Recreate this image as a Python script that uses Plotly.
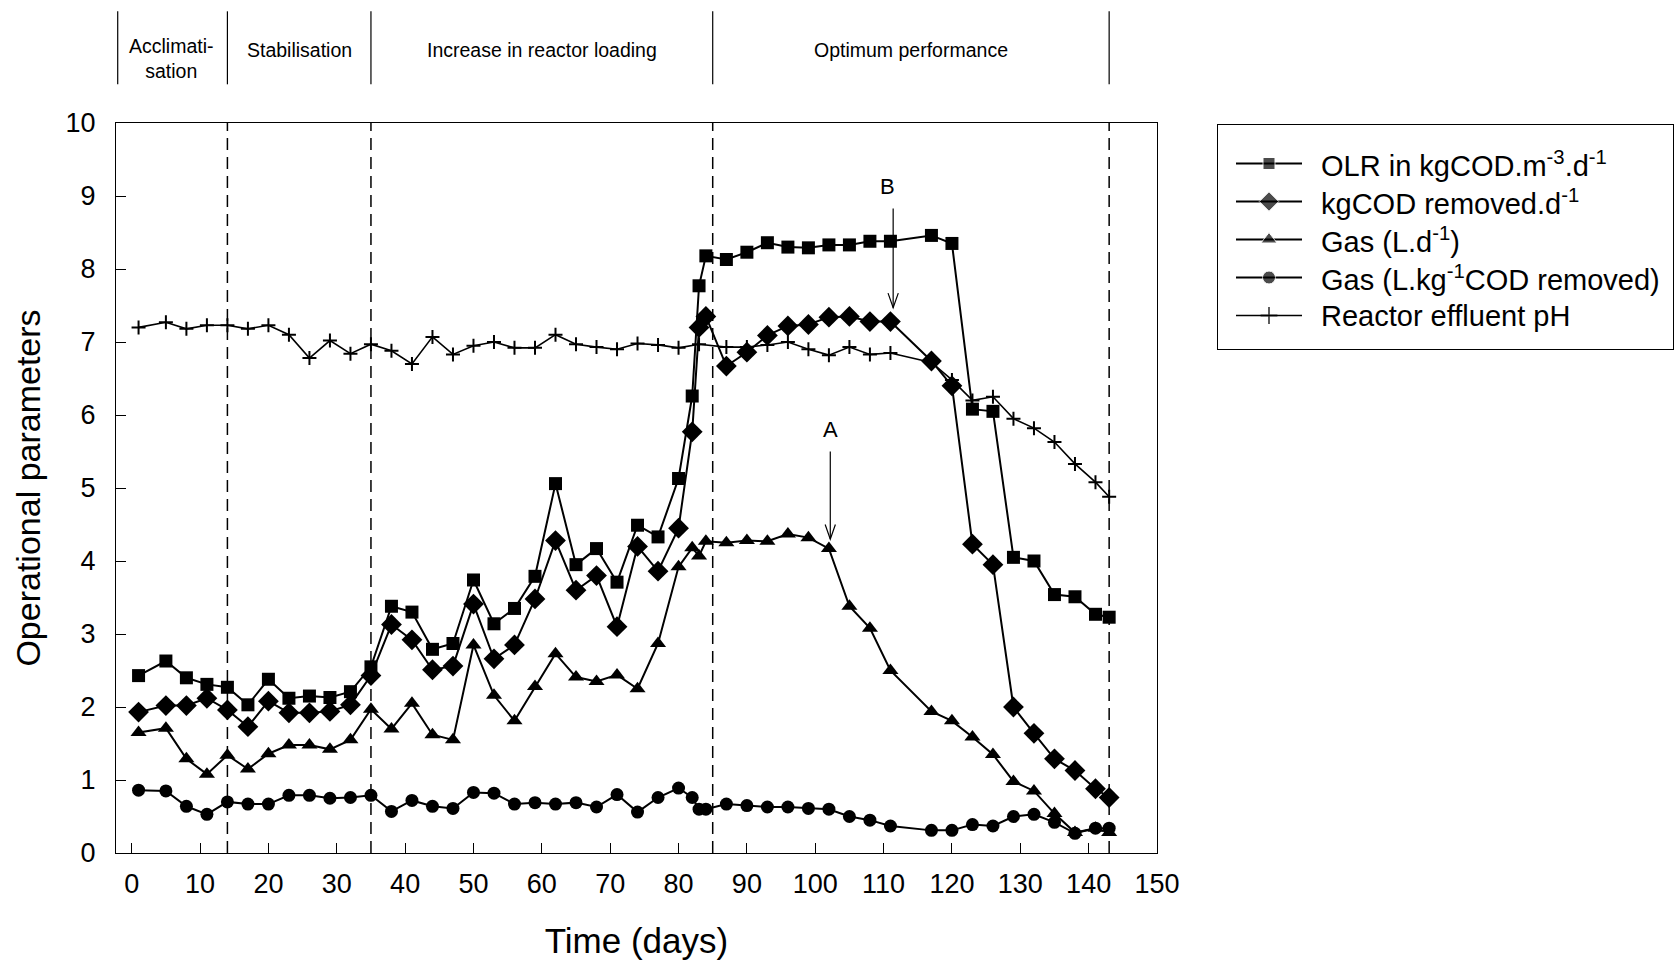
import plotly.graph_objects as go

# ---------------- data ----------------
days = [1, 5, 8, 11, 14, 17, 20, 23, 26, 29, 32, 35, 38, 41, 44, 47, 50, 53, 56, 59,
        62, 65, 68, 71, 74, 77, 80, 82, 83, 84, 87, 90, 93, 96, 99, 102, 105, 108, 111,
        117, 120, 123, 126, 129, 132, 135, 138, 141, 143]

olr = [2.43, 2.63, 2.40, 2.31, 2.27, 2.03, 2.38, 2.12, 2.15, 2.13, 2.21, 2.55, 3.38, 3.30,
       2.79, 2.87, 3.74, 3.14, 3.35, 3.79, 5.06, 3.95, 4.17, 3.71, 4.49, 4.33, 5.13, 6.26,
       7.77, 8.18, 8.13, 8.23, 8.36, 8.30, 8.29, 8.33, 8.33, 8.38, 8.38, 8.46, 8.35, 6.08,
       6.05, 4.05, 4.00, 3.54, 3.51, 3.27, 3.23]

cod_removed = [1.93, 2.02, 2.02, 2.12, 1.96, 1.73, 2.08, 1.92, 1.92, 1.94, 2.03, 2.43, 3.13,
               2.92, 2.51, 2.56, 3.41, 2.66, 2.85, 3.48, 4.28, 3.60, 3.80, 3.10, 4.20, 3.86,
               4.45, 5.77, 7.20, 7.35, 6.67, 6.86, 7.09, 7.22, 7.24, 7.34, 7.35, 7.28, 7.28,
               6.74, 6.40, 4.23, 3.95, 2.00, 1.64, 1.29, 1.13, 0.88, 0.76]

gas_ld = [1.65, 1.71, 1.29, 1.08, 1.34, 1.15, 1.36, 1.48, 1.48, 1.42, 1.55, 1.97, 1.70, 2.05,
          1.62, 1.55, 2.85, 2.16, 1.81, 2.28, 2.73, 2.41, 2.35, 2.44, 2.25, 2.87, 3.92, 4.18,
          4.07, 4.27, 4.25, 4.28, 4.27, 4.37, 4.32, 4.17, 3.38, 3.08, 2.50, 1.94, 1.81, 1.59,
          1.35, 0.98, 0.85, 0.54, 0.28, 0.34, 0.28]

gas_lkg = [0.86, 0.85, 0.64, 0.53, 0.70, 0.67, 0.67, 0.79, 0.79, 0.75, 0.76, 0.79, 0.57, 0.72,
           0.64, 0.61, 0.83, 0.82, 0.67, 0.69, 0.67, 0.69, 0.63, 0.80, 0.56, 0.76, 0.89, 0.76,
           0.60, 0.60, 0.67, 0.65, 0.63, 0.63, 0.61, 0.60, 0.50, 0.45, 0.37, 0.31, 0.31, 0.39,
           0.37, 0.50, 0.53, 0.42, 0.27, 0.34, 0.34]

ph_days = [1, 5, 8, 11, 14, 17, 20, 23, 26, 29, 32, 35, 38, 41, 44, 47, 50, 53, 56, 59, 62,
           65, 68, 71, 74, 77, 80, 83, 87, 90, 93, 96, 99, 102, 105, 108, 111, 117, 120, 123,
           126, 129, 132, 135, 138, 141, 143]
ph = [7.20, 7.27, 7.18, 7.23, 7.23, 7.18, 7.23, 7.10, 6.78, 7.02, 6.84, 6.97, 6.88, 6.70,
      7.07, 6.83, 6.95, 7.00, 6.92, 6.92, 7.10, 6.97, 6.93, 6.90, 6.98, 6.96, 6.92, 6.97,
      6.93, 6.93, 6.96, 7.00, 6.90, 6.82, 6.93, 6.83, 6.85, 6.72, 6.48, 6.20, 6.25, 5.95,
      5.82, 5.63, 5.33, 5.08, 4.88]

series_names = ["OLR in kgCOD.m<sup>-3</sup>.d<sup>-1</sup>",
                "kgCOD removed.d<sup>-1</sup>",
                "Gas (L.d<sup>-1</sup>)",
                "Gas (L.kg<sup>-1</sup>COD removed)",
                "Reactor effluent pH"]

phase_bounds = [14, 35, 85, 143]
phase_labels = ["Acclimati-<br>sation", "Stabilisation", "Increase in reactor loading",
                "Optimum performance"]
x_ticks = list(range(0, 151, 10))
y_ticks = list(range(0, 11, 1))

arrow_A = {"label": "A", "x": 102.2, "y_from": 5.50, "y_to": 4.30, "dx": 0.0}
arrow_B = {"label": "B", "x": 111.4, "y_from": 8.83, "y_to": 7.47, "dx": -0.8}

XMIN, XMAX = -2.3, 150
FONT = "Liberation Sans, Arial, Helvetica, sans-serif"

# layout geometry (pixels)
W, H = 1675, 961
ML, MR, MT, MB = 116, 2, 123, 108
PLOT_RIGHT = 1157
LEG_LEFT, LEG_RIGHT, LEG_TOP, LEG_BOTTOM = 1218, 1673, 125, 349
pw = W - ML - MR
ph_ = H - MT - MB

main_dom = [0, (PLOT_RIGHT - ML) / pw]
leg_xdom = [(LEG_LEFT - ML) / pw, (LEG_RIGHT - ML) / pw]
leg_ydom = [(H - MB - LEG_BOTTOM) / ph_, (H - MB - LEG_TOP) / ph_]
leg_w = LEG_RIGHT - LEG_LEFT
leg_h = LEG_BOTTOM - LEG_TOP

# ---------------- figure ----------------
fig = go.Figure()

# (symbol, plot size, legend size, line width)
styles = [("square", 13, 12, 2), ("diamond", 16, 15, 2), ("triangle-up", 14, 14, 2),
          ("circle", 13, 13, 2), ("cross-thin", 10, 12, 1.6)]
data_x = [days, days, days, days, ph_days]
data_y = [olr, cod_removed, gas_ld, gas_lkg, ph]

for i, (name, xs, ys, (sym, sz, lsz, lw)) in enumerate(zip(series_names, data_x, data_y, styles)):
    mk = dict(symbol=sym, size=sz, color="black")
    if sym == "cross-thin":
        mk["line"] = dict(color="black", width=2)
    fig.add_trace(go.Scatter(
        x=xs, y=ys, name=name, mode="lines+markers",
        line=dict(color="black", width=lw), marker=mk, showlegend=False,
        xaxis="x", yaxis="y",
    ))

# ---- manual legend in its own small axis (pixel units) ----
legend_annotations = []
for i, (name, (sym, sz, lsz, lw)) in enumerate(zip(series_names, styles)):
    yc = 38.5 + 38.0 * i
    mk = dict(symbol=sym, size=[0, lsz, 0], color="black")
    if sym == "cross-thin":
        mk["line"] = dict(color="black", width=1.8)
    fig.add_trace(go.Scatter(
        x=[18, 51, 84], y=[yc, yc, yc], mode="lines+markers",
        line=dict(color="black", width=2 if i < 4 else 1.6), marker=mk,
        showlegend=False, hoverinfo="skip", xaxis="x2", yaxis="y2",
    ))
    legend_annotations.append(dict(x=101, y=yc, xref="x2", yref="y2", text=name,
                                   showarrow=False, xanchor="left", yanchor="middle",
                                   font=dict(family=FONT, size=29, color="black")))

shapes = []
for b in phase_bounds:
    shapes.append(dict(type="line", xref="x", yref="y", x0=b, x1=b, y0=0, y1=10,
                       line=dict(color="black", width=1.5, dash="12px,7px")))
for b in [XMIN + 0.25] + phase_bounds:
    shapes.append(dict(type="line", xref="x", yref="paper", x0=b, x1=b, y0=1.053, y1=1.153,
                       line=dict(color="black", width=1.2)))

annotations = []
lefts = [XMIN] + phase_bounds[:-1]
for lo, hi, lab in zip(lefts, phase_bounds, phase_labels):
    annotations.append(dict(x=(lo + hi) / 2, y=1.10 if "<br>" not in lab else 1.089,
                            xref="x", yref="paper", text=lab, showarrow=False,
                            font=dict(family=FONT, size=19.5, color="black"),
                            xanchor="center", yanchor="middle"))

for arr in (arrow_A, arrow_B):
    shapes.append(dict(type="line", xref="x", yref="y", x0=arr["x"], x1=arr["x"],
                       y0=arr["y_from"], y1=arr["y_to"], line=dict(color="black", width=1.2)))
    shapes.append(dict(type="path", xref="x", yref="y",
                       path=f"M {arr['x'] - 0.75},{arr['y_to'] + 0.2} L {arr['x']},{arr['y_to']} "
                            f"L {arr['x'] + 0.75},{arr['y_to'] + 0.2}",
                       line=dict(color="black", width=1.2)))
    annotations.append(dict(x=arr["x"] + arr["dx"], y=arr["y_from"] + 0.1, xref="x", yref="y",
                            text=arr["label"], showarrow=False, yanchor="bottom",
                            font=dict(family=FONT, size=22, color="black")))

fig.update_layout(
    width=W, height=H,
    paper_bgcolor="white", plot_bgcolor="white",
    margin=dict(l=ML, r=MR, t=MT, b=MB, autoexpand=False),
    font=dict(family=FONT, color="black"),
    shapes=shapes, annotations=annotations + legend_annotations,
    showlegend=False,
    xaxis=dict(domain=main_dom, range=[XMIN, XMAX], tickvals=x_ticks, ticks="inside",
               ticklen=10, tickwidth=1.2, tickcolor="black", showline=True,
               linecolor="black", linewidth=1.2, mirror=True, showgrid=False,
               zeroline=False, tickfont=dict(family=FONT, size=27, color="black"),
               ticklabelstandoff=6,
               title=dict(text="Time (days)", font=dict(family=FONT, size=35, color="black"),
                          standoff=30)),
    yaxis=dict(range=[0, 10], tickvals=y_ticks, ticks="inside", ticklen=10,
               tickwidth=1.2, tickcolor="black", showline=True, linecolor="black",
               linewidth=1.2, mirror=True, showgrid=False, zeroline=False,
               tickfont=dict(family=FONT, size=27, color="black"), ticklabelstandoff=14,
               title=dict(text="Operational parameters",
                          font=dict(family=FONT, size=34, color="black"), standoff=14)),
    xaxis2=dict(domain=leg_xdom, range=[0, leg_w], anchor="y2", showline=True,
                linecolor="black", linewidth=1.2, mirror=True, showgrid=False,
                zeroline=False, showticklabels=False, ticks="", fixedrange=True),
    yaxis2=dict(domain=leg_ydom, range=[leg_h, 0], anchor="x2", showline=True,
                linecolor="black", linewidth=1.2, mirror=True, showgrid=False,
                zeroline=False, showticklabels=False, ticks="", fixedrange=True),
)

fig.write_html("out.html")
